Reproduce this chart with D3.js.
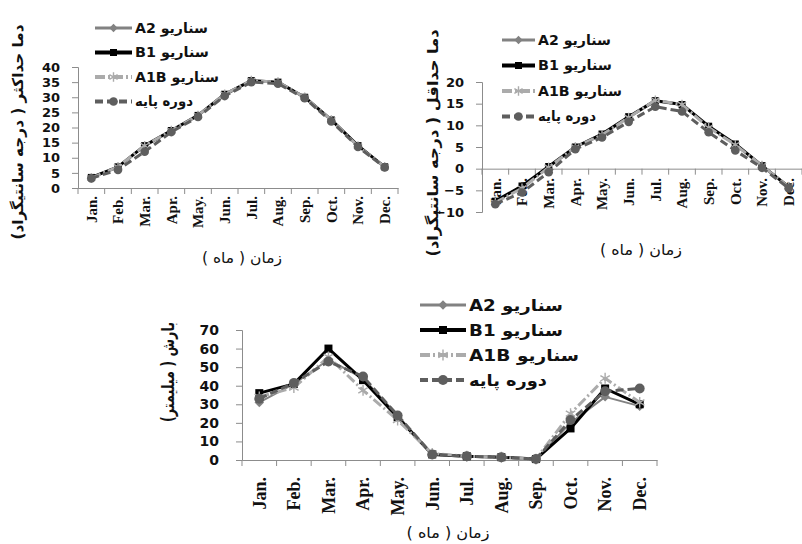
<!DOCTYPE html>
<html>
<head>
<meta charset="utf-8">
<script src="https://cdn.jsdelivr.net/npm/d3@7"></script>
<style>
  body { margin: 0; background: #fff; }
  svg { display: block; }
  .domain { stroke: #8c8c8c; }
  .tick line { stroke: #8c8c8c; }
  .y-ticks text { font-family: "DejaVu Sans"; font-weight: bold; fill: #111; }
  .x-ticks text { font-family: "Liberation Serif"; font-weight: bold; fill: #111; }
  .legend text { font-family: "DejaVu Sans"; font-weight: bold; fill: #111; }
  .title { font-family: "DejaVu Sans"; fill: #111; }
</style>
</head>
<body>
<svg width="802" height="544"></svg>
<script>
const months = ["Jan.", "Feb.", "Mar.", "Apr.", "May.", "Jun.", "Jul.", "Aug.", "Sep.", "Oct.", "Nov.", "Dec."];
const seriesNames = ["سناریو A2", "سناریو B1", "سناریو A1B", "دوره پایه"];

const maxTempA2 = [3.5, 7, 14, 19, 24, 30.5, 35.5, 35, 30, 22.5, 14, 7];
const maxTempB1 = [3.5, 7, 14, 19, 24, 31, 35.5, 35, 30, 22.5, 14, 7];
const maxTempA1B = [3.3, 7, 14, 19, 24, 31, 35.5, 35, 30, 22.5, 13.8, 7];
const maxTempBase = [3.2, 6, 12, 18.5, 23.5, 30.4, 35, 34.5, 29.7, 22, 13.6, 6.8];
const maxTempTicks = [0, 5, 10, 15, 20, 25, 30, 35, 40];

const minTempA2 = [-7.5, -4, 0.3, 5, 7.7, 11.8, 15.5, 14.7, 9.7, 5.5, 0.7, -4];
const minTempB1 = [-7.5, -4, 0.5, 5, 8, 12, 15.7, 14.8, 9.8, 5.7, 0.7, -4.2];
const minTempA1B = [-7.8, -4.5, 0.3, 5, 7.8, 11.8, 15.8, 14.8, 9.5, 5.5, 0.7, -4.2];
const minTempBase = [-8.2, -5.5, -0.8, 4.5, 7.2, 10.8, 14.3, 13.2, 8.4, 4.2, 0.2, -4.5];
const minTempTicks = [-10, -5, 0, 5, 10, 15, 20];

const precipA2 = [31, 41, 54, 44, 24, 3, 2, 1.5, 0.5, 20, 34, 29];
const precipB1 = [36, 41, 60, 43, 23, 3, 2, 1.5, 0.5, 17, 38.5, 30];
const precipA1B = [34, 39, 55.5, 37.5, 21.5, 3.5, 2, 1.5, 0.5, 25, 44, 31];
const precipBase = [33, 41.5, 53, 45, 24, 3, 2, 1.5, 0.5, 21.5, 37, 38.5];
const precipTicks = [0, 10, 20, 30, 40, 50, 60, 70];

const styles = [
  { color: "#828282", width: 2, dash: null, marker: "diamond" },
  { color: "#000000", width: 3, dash: null, marker: "square" },
  { color: "#ababab", width: 3, dash: "10,3,2,3", marker: "star" },
  { color: "#5e5e5e", width: 3, dash: "8,4", marker: "circle" }
];

const svg = d3.select("svg");
svg.append("rect").attr("width", 802).attr("height", 544).attr("fill", "#fff");

const drawMarker = function(g, type, color, s) {
  if (type === "circle") {
    g.append("circle").attr("r", s * 0.62).attr("fill", color);
  } else if (type === "square") {
    g.append("rect").attr("x", -s / 2).attr("y", -s / 2)
      .attr("width", s).attr("height", s).attr("fill", color);
  } else if (type === "diamond") {
    g.append("path").attr("d", d3.symbol(d3.symbolDiamond2, s * s * 0.9)()).attr("fill", color);
  } else {
    g.append("path").attr("d", d3.symbol(d3.symbolAsterisk, s * s * 1.3)())
      .attr("stroke", color).attr("stroke-width", 1.4).attr("fill", "none");
  }
};

const fit = (sel, len) => sel.attr("textLength", len).attr("lengthAdjust", "spacingAndGlyphs");

const drawChart = function(c) {
  const x = d3.scaleBand().domain(months).range([c.left, c.right]);
  const y = d3.scaleLinear().domain(c.domain).range([c.bottom, c.top]);
  const bw = x.bandwidth();
  const g = svg.append("g");

  // y axis
  const yAxis = g.append("g").attr("class", "y-ticks")
    .attr("transform", `translate(${c.left},0)`)
    .call(d3.axisLeft(y).tickValues(c.ticks).tickSize(6).tickPadding(c.tickPad).tickFormat(d3.format("d")));
  yAxis.selectAll("text").style("font-size", c.tickFont + "px");

  // x axis at zero
  const xAxis = g.append("g").attr("class", "x-ticks")
    .attr("transform", `translate(0,${y(0)})`)
    .call(d3.axisBottom(x).tickSize(6).tickSizeOuter(0));
  xAxis.selectAll(".tick line").attr("x1", -bw / 2).attr("x2", -bw / 2);
  xAxis.append("line").attr("x1", c.right).attr("x2", c.right)
    .attr("y1", 0).attr("y2", 6).attr("stroke", "#8c8c8c");
  xAxis.selectAll("text")
    .attr("transform", "rotate(-90)")
    .attr("text-anchor", "end")
    .attr("x", -(c.labelTop - y(0)))
    .attr("y", 0)
    .attr("dy", "0.35em")
    .style("font-size", c.labelFont + "px");

  // series
  const line = d3.line().x((d, i) => x(months[i]) + bw / 2).y(d => y(d));
  c.series.forEach((vals, k) => {
    const st = styles[k];
    g.append("path").attr("d", line(vals)).attr("fill", "none")
      .attr("stroke", st.color).attr("stroke-width", st.width)
      .attr("stroke-dasharray", st.dash).attr("stroke-linejoin", "round");
    vals.forEach((v, i) => {
      const m = g.append("g").attr("transform", `translate(${x(months[i]) + bw / 2},${y(v)})`);
      drawMarker(m, st.marker, st.color, c.marker);
    });
  });

  // legend
  const lg = g.append("g").attr("class", "legend");
  seriesNames.forEach((name, k) => {
    const st = styles[k];
    const ry = c.legend.y + k * c.legend.step;
    lg.append("line").attr("x1", c.legend.x0).attr("x2", c.legend.x1)
      .attr("y1", ry).attr("y2", ry).attr("stroke", st.color)
      .attr("stroke-width", st.width + 1).attr("stroke-dasharray", st.dash);
    const m = lg.append("g").attr("transform", `translate(${(c.legend.x0 + c.legend.x1) / 2},${ry})`);
    drawMarker(m, st.marker, st.color, c.marker);
    const t = lg.append("text")
      .attr("x", c.legend.x1 + 3 + c.legend.widths[k] / 2).attr("y", ry).attr("dy", "0.35em")
      .attr("direction", "rtl").attr("text-anchor", "middle")
      .style("font-size", c.legend.font + "px").text(name);
    fit(t, c.legend.widths[k]);
  });

  // titles
  const xt = g.append("text").attr("class", "title")
    .attr("x", c.xTitle[0]).attr("y", c.xTitle[1]).attr("text-anchor", "middle")
    .attr("direction", "rtl").style("font-size", c.xTitle[2] + "px").text("زمان ( ماه )");
  fit(xt, c.xTitle[3]);
  const yt = g.append("text").attr("class", "title")
    .attr("transform", `translate(${c.yTitle[0]},${c.yTitle[1]}) rotate(-90)`)
    .attr("text-anchor", "middle").attr("dy", "0.35em").attr("direction", "rtl")
    .style("font-size", c.yTitle[2] + "px").style("font-weight", "bold").text(c.yLabel);
  fit(yt, c.yTitle[3]);
};

drawChart({
  left: 78, right: 398, top: 67, bottom: 188, domain: [0, 40], ticks: maxTempTicks,
  series: [maxTempA2, maxTempB1, maxTempA1B, maxTempBase],
  tickFont: 13, tickPad: 12, labelFont: 15, labelTop: 196, marker: 7,
  legend: { x0: 95, x1: 132, y: 28, step: 24.5, font: 14, widths: [73, 74, 84, 58] },
  xTitle: [242, 263, 15, 80], yTitle: [18, 132, 15, 215],
  yLabel: "دما حداکثر ( درجه سانتیگراد)"
});

drawChart({
  left: 482, right: 802, top: 82, bottom: 212, domain: [-10, 20], ticks: minTempTicks,
  series: [minTempA2, minTempB1, minTempA1B, minTempBase],
  tickFont: 13, tickPad: 12, labelFont: 15, labelTop: 178, marker: 7,
  legend: { x0: 502, x1: 535, y: 40, step: 25.5, font: 14, widths: [73, 74, 84, 58] },
  xTitle: [641, 255, 15, 82], yTitle: [433, 143, 15, 227],
  yLabel: "دما حداقل ( درجه سانتیگراد)"
});

drawChart({
  left: 242, right: 657, top: 330, bottom: 460, domain: [0, 70], ticks: precipTicks,
  series: [precipA2, precipB1, precipA1B, precipBase],
  tickFont: 14, tickPad: 17, labelFont: 18, labelTop: 477, marker: 8,
  legend: { x0: 420, x1: 466, y: 305, step: 25, font: 16, widths: [94, 94, 110, 78] },
  xTitle: [448, 538, 15, 83], yTitle: [168, 372, 17, 100],
  yLabel: "بارش ( میلیمتر)"
});
</script>
</body>
</html>
